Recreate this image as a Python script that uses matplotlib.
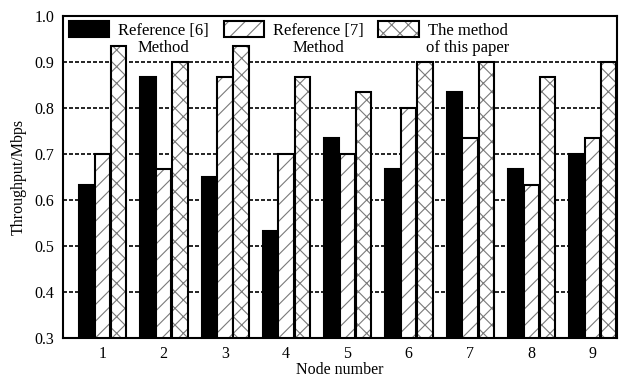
import matplotlib
matplotlib.use("Agg")
import matplotlib.pyplot as plt
import numpy as np

plt.rcParams['font.family'] = ['Liberation Serif', 'DejaVu Serif']
plt.rcParams['hatch.linewidth'] = 0.8

# data
nodes = [1, 2, 3, 4, 5, 6, 7, 8, 9]
ref6 = [0.633, 0.867, 0.650, 0.533, 0.733, 0.667, 0.833, 0.667, 0.700]
ref7 = [0.700, 0.667, 0.867, 0.700, 0.700, 0.800, 0.733, 0.633, 0.733]
ours = [0.933, 0.900, 0.933, 0.867, 0.833, 0.900, 0.900, 0.867, 0.900]
labels = ["Reference [6]", "Reference [7]", "The method"]
second_lines = ["Method", "Method", "of this paper"]
yticks = [0.3, 0.4, 0.5, 0.6, 0.7, 0.8, 0.9, 1.0]

fig = plt.figure(figsize=(6.22, 3.8), dpi=100)
ax = fig.add_axes([0.101, 0.111, 0.891, 0.848])

x = np.array(nodes)
w = 0.25
b1 = ax.bar(x - 0.255, ref6, w, color='black', edgecolor='black', linewidth=1.5)

# hatched bars: grey hatch first, black outline on top
h2 = ax.bar(x, ref7, w, color='white', edgecolor='#7a7a7a', linewidth=0, hatch='//')
o2 = ax.bar(x, ref7, w, fill=False, edgecolor='black', linewidth=1.5)
h3 = ax.bar(x + 0.265, ours, w, color='white', edgecolor='#7a7a7a', linewidth=0, hatch='xx')
o3 = ax.bar(x + 0.265, ours, w, fill=False, edgecolor='black', linewidth=1.5)

ax.set_xlim(0.355, 9.4)
ax.set_ylim(0.3, 1.0)
ax.set_yticks(yticks)
ax.set_yticklabels(["%.1f" % v for v in yticks])
ax.set_xticks(nodes)
ax.tick_params(axis='both', labelsize=11.5, length=0, pad=6)
ax.set_axisbelow(True)
ax.yaxis.grid(True, color='black', linewidth=1.2, linestyle=(0, (2.4, 1.2)))
for s in ax.spines.values():
    s.set_linewidth(1.5)

ax.set_xlabel("Node number", fontsize=11.5, labelpad=0)
ax.set_ylabel("Throughput/Mbps", fontsize=11.5, labelpad=6)

leg = ax.legend([b1, (h2, o2), (h3, o3)], labels, ncol=3, loc='upper left',
                bbox_to_anchor=(0.0, 1.0), frameon=False, fontsize=12,
                handlelength=2.45, handleheight=1.1, handletextpad=0.5,
                columnspacing=0.9, borderpad=0.2, borderaxespad=0.15)

# second line of each legend label, centred under the first
fig.canvas.draw()
for t, txt in zip(leg.get_texts(), second_lines):
    bb = t.get_window_extent()
    fx = (bb.x0 + bb.x1) / 2 / fig.bbox.width
    fy = (bb.y0 - 1) / fig.bbox.height
    fig.text(fx, fy, txt, ha='center', va='top', fontsize=12)

fig.savefig("out.png", dpi=100)
